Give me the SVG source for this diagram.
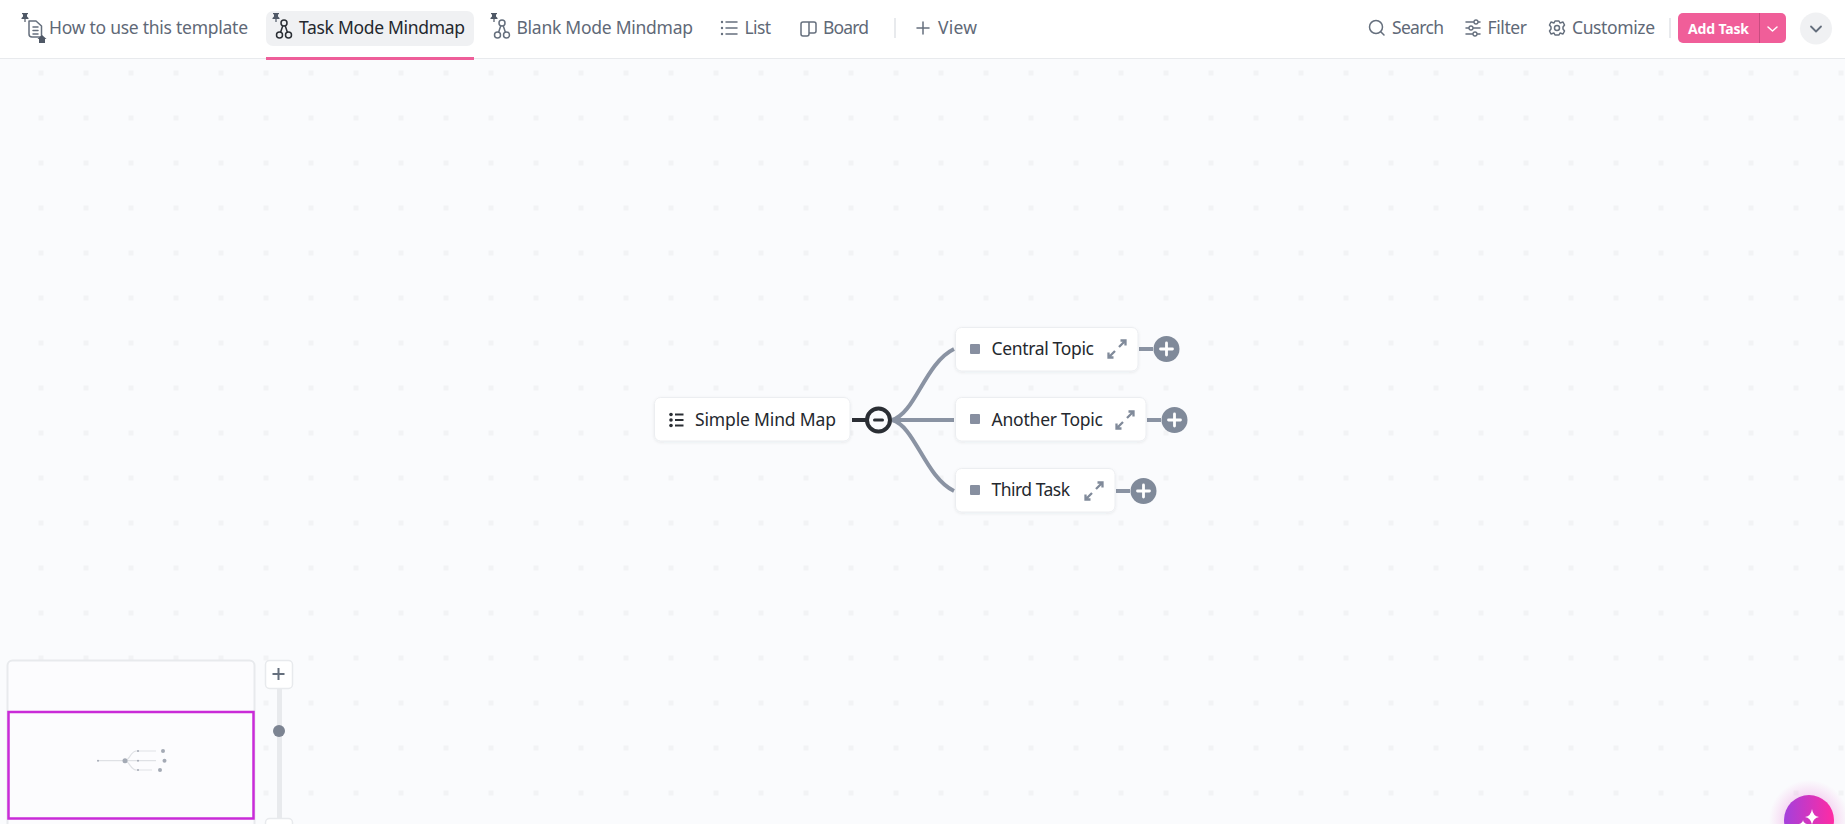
<svg xmlns="http://www.w3.org/2000/svg" width="1845" height="824" viewBox="0 0 1845 824">
<style>
text{font-family:"Noto Sans","Open Sans","Liberation Sans",sans-serif;font-weight:400}
.tab{font-size:17.5px;fill:#5f6977}
.act{font-size:17.5px;fill:#24282e}
.lbl{font-size:17.5px;fill:#24282e}
.ic{fill:none;stroke:#656f7d;stroke-width:1.5;stroke-linecap:round;stroke-linejoin:round}
.node{fill:#fff;stroke:#eceef1;stroke-width:1;filter:url(#sh)}
.edge{fill:none;stroke:#8a93a3;stroke-width:4}
.sq{fill:#878fa0}
.pc{fill:#808a9a}
.pm{stroke:#fff;stroke-width:2.800;stroke-linecap:round;fill:none}
.ex{fill:none;stroke:#808a9a;stroke-width:2.300;stroke-linecap:butt;stroke-linejoin:miter}
.mm{fill:none;stroke:#dfe1e5;stroke-width:1.200}
.md{fill:#a4aab5}
</style>
<defs>
<pattern id="dots" x="0" y="0" width="45" height="45" patternUnits="userSpaceOnUse" patternTransform="translate(38.5 25.5)"><rect width="5" height="5" fill="#f2f3f5"/></pattern>
<filter id="sh" x="-10%" y="-20%" width="120%" height="140%"><feDropShadow dx="0" dy="1" stdDeviation="1.500" flood-color="#2a2e34" flood-opacity="0.08"/></filter>
<linearGradient id="ai" x1="0" x2="1" y1="0" y2="0"><stop offset="0" stop-color="#a340dc"/><stop offset="1" stop-color="#ff2ba3"/></linearGradient>
<radialGradient id="glow"><stop offset="0.55" stop-color="#e05ad0" stop-opacity="0.25"/><stop offset="1" stop-color="#f06ad0" stop-opacity="0"/></radialGradient>
<path id="pin" d="M-3 -4H3V-3L2 -2.500V-0.500L3.500 1V2H0.600V5H-0.600V2H-3.500V1L-2 -0.500V-2.500L-3 -3Z" fill="#4f5866"/>
<g id="mind"><circle cx="0" cy="-6" r="3"/><circle cx="-4.500" cy="6" r="3"/><circle cx="4.500" cy="6" r="3"/><path d="M-1.200 -3.300L-3.400 3.300M1.200 -3.300L3.400 3.300"/></g>
<path id="expand" d="M2 -2L8 -8M3.500 -8.500H8.500V-3.500M-2 2L-8 8M-3.500 8.500H-8.500V3.500"/>
</defs>
<rect width="1845" height="824" fill="#fafbfd"/>
<rect width="1845" height="824" fill="url(#dots)"/>

<g id="header">
<rect width="1845" height="58" fill="#fff"/>
<rect y="58" width="1845" height="1" fill="#e8eaed"/>
<rect x="266" y="11" width="208" height="35" rx="7" fill="#f0f1f3"/>
<rect x="266" y="57" width="208" height="3" fill="#ee5e99"/>
<g id="tab-howto">
<use href="#pin" x="25" y="17"/>
<path class="ic" d="M29 21H36L41.500 26V37H32Q29 37 29 34ZM33 27H38M33 30.500H38M33 34H38"/>
<path d="M37.500 39L42 35L46.500 39H45V43H39V39Z" fill="#4f5866"/>
<text class="tab" x="49" y="34" textLength="199">How to use this template</text>
</g>
<g id="tab-task">
<use href="#pin" x="276" y="17"/>
<use href="#mind" x="284" y="29" fill="none" stroke="#2a2e34" stroke-width="1.500"/>
<text class="act" x="299" y="34" textLength="166">Task Mode Mindmap</text>
</g>
<g id="tab-blank">
<use href="#pin" x="494" y="17"/>
<use href="#mind" x="502" y="29" fill="none" stroke="#656f7d" stroke-width="1.500"/>
<text class="tab" x="516.500" y="34" textLength="176.500">Blank Mode Mindmap</text>
</g>
<g id="tab-list">
<path class="ic" d="M726 22H737M726 28H737M726 34H737"/>
<circle cx="722" cy="22" r="1.200" fill="#656f7d"/><circle cx="722" cy="28" r="1.200" fill="#656f7d"/><circle cx="722" cy="34" r="1.200" fill="#656f7d"/>
<text class="tab" x="744.500" y="34" textLength="26.500">List</text>
</g>
<g id="tab-board">
<path class="ic" d="M801 24Q801 22 803 22H814Q816 22 816 24V31Q816 33 814 33H809V34Q809 36 807 36H803Q801 36 801 34ZM809 22V33"/>
<text class="tab" x="823" y="34" textLength="46">Board</text>
</g>
<rect x="894" y="18" width="2" height="20" fill="#e8eaed"/>
<g id="tab-view">
<path class="ic" d="M923 22V34M917 28H929"/>
<text class="tab" x="938" y="34" textLength="39">View</text>
</g>
<g id="search">
<circle class="ic" cx="1376" cy="27" r="6.500"/><path class="ic" d="M1381 32L1384 35"/>
<text class="tab" x="1392" y="34" textLength="52">Search</text>
</g>
<g id="filter">
<path class="ic" d="M1466 22H1480M1466 28H1480M1466 34H1480"/>
<circle cx="1476" cy="22" r="2" fill="#fff" stroke="#656f7d" stroke-width="1.300"/><circle cx="1471" cy="28" r="2" fill="#fff" stroke="#656f7d" stroke-width="1.300"/><circle cx="1475" cy="34" r="2" fill="#fff" stroke="#656f7d" stroke-width="1.300"/>
<text class="tab" x="1487.500" y="34" textLength="39.500">Filter</text>
</g>
<g id="customize">
<circle class="ic" cx="1557" cy="28" r="2.500"/>
<path class="ic" d="M1555 21H1559L1560 23L1563 22L1564.500 25L1563 27V29L1564.500 31L1563 34L1560 33L1559 35H1555L1554 33L1551 34L1549.500 31L1551 29V27L1549.500 25L1551 22L1554 23Z"/>
<text class="tab" x="1572" y="34" textLength="83">Customize</text>
</g>
<rect x="1669" y="18" width="2" height="20" fill="#e8eaed"/>
<g id="add-task">
<rect x="1678" y="13" width="108" height="30" rx="5" fill="#f05e99"/>
<rect x="1759" y="13" width="1" height="30" fill="#c94c80"/>
<text x="1688" y="33.500" font-size="14" style="font-weight:700" fill="#fff" textLength="61">Add Task</text>
<path d="M1768 27L1772.500 31L1777 27" fill="none" stroke="#fff" stroke-width="1.500" stroke-linecap="round" stroke-linejoin="round"/>
</g>
<g id="more">
<circle cx="1816" cy="28.500" r="16" fill="#f0f1f3"/>
<path d="M1811 26.500L1816 31.500L1821 26.500" fill="none" stroke="#656f7d" stroke-width="1.800" stroke-linecap="round" stroke-linejoin="round"/>
</g>
</g>

<g id="connectors">
<path d="M852 420H866" fill="none" stroke="#2a2e34" stroke-width="4"/>
<path class="edge" d="M892 420C915 414 925 363 954 349"/>
<path class="edge" d="M892 420H954"/>
<path class="edge" d="M892 420C915 426 925 477 954 491"/>
<path class="edge" d="M1139 349H1153"/>
<path class="edge" d="M1147 420H1161"/>
<path class="edge" d="M1116 491H1130"/>
</g>

<g id="node-root">
<rect class="node" x="654.500" y="397.500" width="195.500" height="43.500" rx="6"/>
<circle cx="671" cy="414.500" r="1.800" fill="#2a2e34"/><circle cx="671" cy="420" r="1.800" fill="#2a2e34"/><circle cx="671" cy="425.500" r="1.800" fill="#2a2e34"/>
<path d="M675 414.500H683.500M675 420H683.500M675 425.500H683.500" stroke="#2a2e34" stroke-width="2" fill="none"/>
<text class="lbl" x="695" y="425.500" textLength="141">Simple Mind Map</text>
</g>
<g id="toggle-root">
<circle cx="878.500" cy="420" r="11.500" fill="#fafbfd" stroke="#2a2e34" stroke-width="4"/>
<path d="M874.500 420H882.500" stroke="#2a2e34" stroke-width="3" stroke-linecap="round"/>
</g>
<g id="node-central">
<rect class="node" x="955.500" y="327.500" width="182.500" height="43.500" rx="6"/>
<rect class="sq" x="970" y="344" width="10" height="10" rx="1"/>
<text class="lbl" x="991.500" y="354.500" textLength="102.500">Central Topic</text>
<use href="#expand" class="ex" x="1117" y="349"/>
<circle class="pc" cx="1166.500" cy="349" r="13"/><path class="pm" d="M1160.500 349H1172.500M1166.500 343V355"/>
</g>
<g id="node-another">
<rect class="node" x="955.500" y="397.500" width="190.500" height="43.500" rx="6"/>
<rect class="sq" x="970" y="414" width="10" height="10" rx="1"/>
<text class="lbl" x="991.500" y="425.500" textLength="111.500">Another Topic</text>
<use href="#expand" class="ex" x="1125" y="420"/>
<circle class="pc" cx="1174.500" cy="420" r="13"/><path class="pm" d="M1168.500 420H1180.500M1174.500 414V426"/>
</g>
<g id="node-third">
<rect class="node" x="955.500" y="468.500" width="159.500" height="43.500" rx="6"/>
<rect class="sq" x="970" y="485" width="10" height="10" rx="1"/>
<text class="lbl" x="991.500" y="496" textLength="78.500">Third Task</text>
<use href="#expand" class="ex" x="1094" y="491"/>
<circle class="pc" cx="1143.500" cy="491" r="13"/><path class="pm" d="M1137.500 491H1149.500M1143.500 485V497"/>
</g>

<g id="minimap">
<rect x="7.500" y="660.500" width="247" height="171" rx="5" fill="#fcfcfe" stroke="#e8eaed" stroke-width="2"/>
<path class="mm" d="M98 760.700H125M125 760.700C130 760 130 752 136 751H156M125 760.700H156M125 760.700C130 762 130 769 136 770H152"/>
<circle class="md" cx="98" cy="760.700" r="1"/><circle class="md" cx="125" cy="760.700" r="2.500"/>
<circle class="md" cx="138" cy="751" r="1"/><circle class="md" cx="138" cy="760.700" r="1"/><circle class="md" cx="138" cy="770" r="1"/>
<circle class="md" cx="163" cy="751" r="2"/><circle class="md" cx="164.500" cy="760.700" r="2"/><circle class="md" cx="160" cy="770" r="2"/>
<rect x="8.500" y="712" width="245" height="106.500" fill="none" stroke="#c92bd8" stroke-width="2.500"/>
</g>
<g id="zoom">
<rect x="277" y="685" width="5" height="140" fill="#e8eaed"/>
<rect x="265.500" y="660.500" width="27" height="28" rx="4" fill="#fff" stroke="#e8eaed" stroke-width="1.500"/>
<path d="M278.500 668V680M272.500 674H284.500" stroke="#656f7d" stroke-width="2"/>
<circle cx="279" cy="731" r="6" fill="#7c8492"/>
<rect x="265.500" y="818.500" width="27" height="27" rx="4" fill="#fff" stroke="#e8eaed" stroke-width="1.500"/>
</g>
<g id="ai-button">
<circle cx="1809" cy="820" r="40" fill="url(#glow)"/>
<circle cx="1809" cy="820" r="25" fill="url(#ai)"/>
<path d="M1812 809Q1813 816 1819 817Q1813 818 1812 825Q1811 818 1805 817Q1811 816 1812 809Z" fill="#fff"/>
<path d="M1803 820Q1803.500 823 1807 824Q1803.500 825 1803 828Q1802.500 825 1799 824Q1802.500 823 1803 820Z" fill="#fff"/>
</g>
</svg>
